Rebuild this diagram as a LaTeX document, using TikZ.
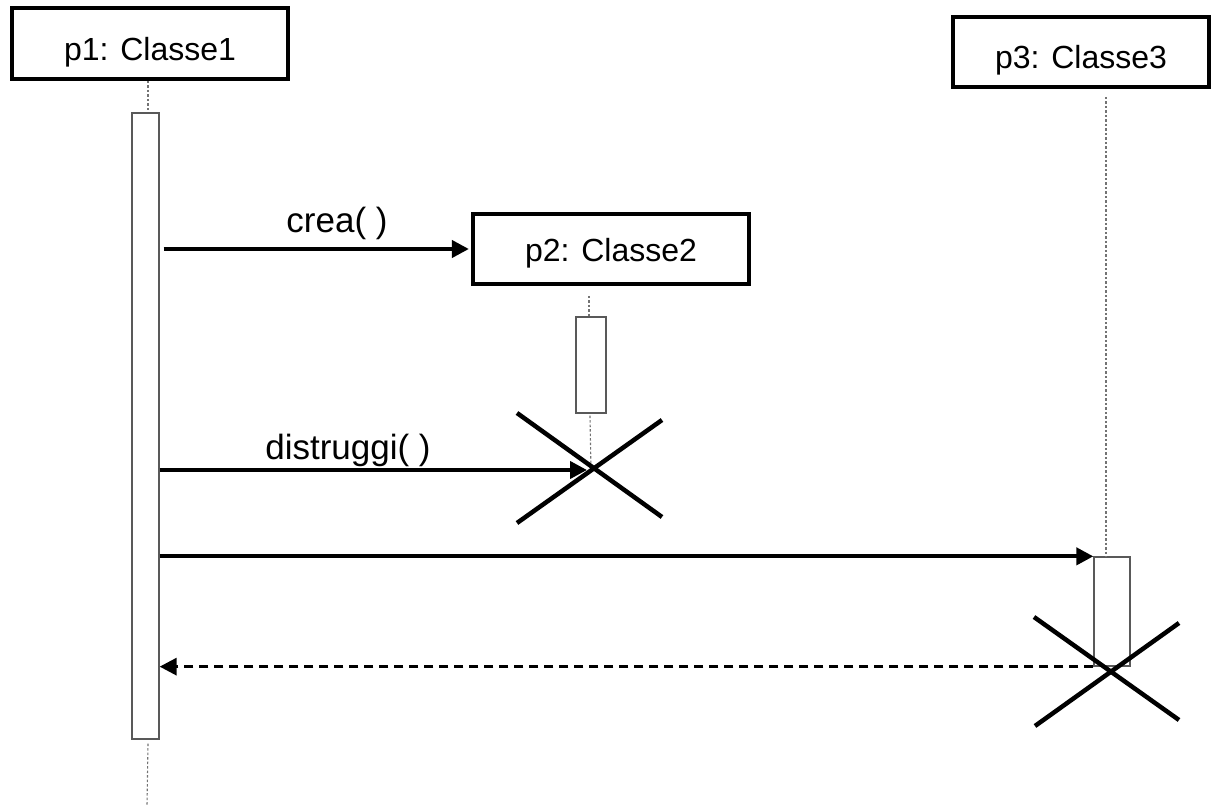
\documentclass[tikz,border=0pt]{standalone}
\usepackage{fontspec}
\setmainfont{Liberation Sans}
\usetikzlibrary{arrows.meta,calc}

\tikzset{
  objbox/.style={draw=black, line width=4.2pt, fill=white, inner sep=0pt},
  objlabel/.style={anchor=base, inner sep=0pt, font=\fontsize{32}{36}\selectfont},
  msglabel/.style={anchor=base, inner sep=0pt, font=\fontsize{35}{40}\selectfont},
  actbox/.style={draw=black!65, line width=1.3pt, fill=white, inner sep=0pt},
  lifeline/.style={draw=black!55, line width=1.1pt, dash pattern=on 2.5pt off 2pt},
  msg/.style={draw=black, line width=4pt, -{Triangle[length=17pt,width=17pt]}},
  reply/.style={draw=black, line width=3.2pt, dash pattern=on 9pt off 6pt,
                -{Triangle[length=17pt,width=17pt]}},
  destroy/.style={draw=black, line width=4.5pt},
}

\begin{document}
\begin{tikzpicture}[x=1pt, y=-1pt]
  \useasboundingbox (0,0) rectangle (1211,810);

  % object headers
  \node[objbox, minimum width=276pt, minimum height=71pt] (p1) at (150,43.5) {};
  \node[objlabel] (p1t) at ([yshift=-17pt]p1.center) {p1: Classe1};

  \node[objbox, minimum width=276pt, minimum height=70pt] (p2) at (611,249) {};
  \node[objlabel] (p2t) at ([yshift=-13pt]p2.center) {p2: Classe2};

  \node[objbox, minimum width=256pt, minimum height=70pt] (p3) at (1081,52) {};
  \node[objlabel] (p3t) at ([yshift=-17pt]p3.center) {p3: Classe3};

  % activation bars
  \node[actbox, minimum width=27pt, minimum height=626pt] (a1) at (145.5,426) {};
  \node[actbox, minimum width=30pt, minimum height=96pt] (a2) at (591,365) {};
  \node[actbox, minimum width=36pt, minimum height=109pt] (a3) at (1112,611.5) {};

  % destruction points and lifeline ends
  \coordinate (x2) at (591,470);
  \coordinate (x3) at (1108,671);
  \coordinate (end1) at (147,806);

  % lifelines
  \draw[lifeline] (148,81) -- (a1.north -| 148,0);
  \draw[lifeline] (a1.south -| 148,0) ++(0,4) -- (end1);
  \draw[lifeline] (589,296) -- (a2.north -| 589,0);
  \draw[lifeline] (a2.south -| 590,0) ++(0,2) -- (x2);
  \draw[lifeline] (1106,97) -- (a3.north -| 1106,0);

  % messages
  \draw[msg] ([xshift=4pt]a1.east |- p2.west) -- ([xshift=-2pt]p2.west);
  \node[msglabel] (crea) at (337,233) {crea( )};

  \draw[msg, shorten >=4pt] (a1.east |- x2) -- (x2);
  \node[msglabel] (distr) at (348,459) {distruggi( )};

  \draw[msg] (a1.east |- a3.north west) -- (a3.north west);
  \draw[reply] (a3.south west) -- (a1.east |- a3.south west);

  % destruction marks
  \draw[destroy] ($(x2)+(-74,-57)$) -- ($(x2)+(71,47)$);
  \draw[destroy] ($(x2)+(-74,53)$) -- ($(x2)+(71,-50)$);
  \draw[destroy] ($(x3)+(-74,-54)$) -- ($(x3)+(71,49)$);
  \draw[destroy] ($(x3)+(-73,55)$) -- ($(x3)+(71,-48)$);
\end{tikzpicture}
\end{document}
